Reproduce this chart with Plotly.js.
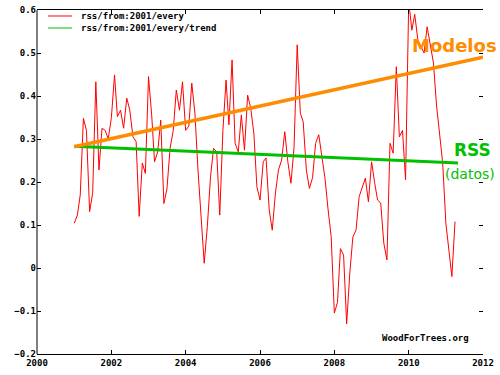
<!DOCTYPE html>
<html>
<head>
<meta charset="utf-8">
<script src="https://cdn.plot.ly/plotly-3.0.1.min.js"></script>
<style>html,body{margin:0;padding:0;background:#fff;}#chart{width:500px;height:375px;}</style>
</head>
<body>
<div id="chart"></div>
<script>
// Monthly RSS anomalies, Jan 2001 .. Apr 2011
var startYear = 2001;
var rssValues = [
  0.104, 0.123, 0.170, 0.348, 0.320, 0.131, 0.174, 0.433, 0.228, 0.325, 0.320, 0.300,
  0.350, 0.449, 0.352, 0.367, 0.325, 0.395, 0.367, 0.305, 0.294, 0.120, 0.244, 0.220,
  0.445, 0.356, 0.247, 0.270, 0.344, 0.150, 0.184, 0.279, 0.320, 0.414, 0.367, 0.433,
  0.320, 0.330, 0.430, 0.360, 0.228, 0.120, 0.011, 0.096, 0.212, 0.278, 0.270, 0.123,
  0.320, 0.437, 0.333, 0.484, 0.290, 0.270, 0.356, 0.274, 0.402, 0.372, 0.314, 0.189,
  0.158, 0.247, 0.256, 0.135, 0.088, 0.174, 0.228, 0.251, 0.317, 0.247, 0.197, 0.280,
  0.519, 0.360, 0.340, 0.228, 0.185, 0.210, 0.290, 0.310, 0.259, 0.209, 0.135, 0.073,
  -0.105, -0.080, 0.045, 0.030, -0.130, -0.012, 0.072, 0.088, 0.166, 0.189, 0.209, 0.154,
  0.247, 0.197, 0.158, 0.151, 0.058, 0.019, 0.290, 0.267, 0.468, 0.305, 0.320, 0.205,
  0.620, 0.553, 0.590, 0.530, 0.515, 0.500, 0.561, 0.523, 0.477, 0.379, 0.314, 0.244,
  0.104, 0.042, -0.020, 0.108
];
var trendX = ['2001-01-01', '2011-05-01'];
var trendValues = [0.283, 0.244];
var modelX = ['2001-01-01', '2012-01-01'];
var modelValues = [0.282, 0.490];
var xTickVals = ['2000-01-01','2002-01-01','2004-01-01','2006-01-01','2008-01-01','2010-01-01','2012-01-01'];
var xTickText = ['2000','2002','2004','2006','2008','2010','2012'];
var legendLabels = ['rss/from:2001/every', 'rss/from:2001/every/trend'];

var months = [];
for (var i = 0; i < rssValues.length; i++) {
  var y = startYear + Math.floor(i / 12);
  var m = (i % 12) + 1;
  months.push(y + '-' + (m < 10 ? '0' + m : m) + '-01');
}

var mono = {family: 'DejaVu Sans Mono', size: 9, color: '#000', weight: 'bold'};

var traces = [
  {x: months, y: rssValues, type: 'scatter', mode: 'lines', line: {color: '#ff0000', width: 1}, showlegend: false, hoverinfo: 'skip'},
  {x: trendX, y: trendValues, type: 'scatter', mode: 'lines', line: {color: '#00c000', width: 3}, showlegend: false, hoverinfo: 'skip'},
  {x: modelX, y: modelValues, type: 'scatter', mode: 'lines', line: {color: '#ff8c00', width: 3.5}, showlegend: false, hoverinfo: 'skip'}
];

var layout = {
  width: 500, height: 375,
  margin: {l: 37, r: 17, t: 10, b: 21, pad: 0},
  paper_bgcolor: '#fff', plot_bgcolor: '#fff',
  showlegend: false,
  xaxis: {
    type: 'date', range: ['2000-01-01', '2012-01-01'],
    tickvals: xTickVals, ticktext: xTickText,
    ticks: 'inside', ticklen: 4, tickcolor: '#000', tickwidth: 1,
    showline: true, linecolor: '#000', linewidth: 1, mirror: 'ticks',
    showgrid: false, zeroline: false, tickfont: mono
  },
  yaxis: {
    range: [-0.2, 0.6], dtick: 0.1, tick0: 0,
    ticks: 'inside', ticklen: 4, tickcolor: '#000', tickwidth: 1,
    showline: false, mirror: 'ticks',
    showgrid: false, zeroline: false, tickfont: mono
  },
  shapes: [
    {type: 'line', xref: 'paper', yref: 'paper', x0: 0, x1: 0, y0: 0, y1: 1, line: {color: '#000', width: 1}},
    {type: 'line', xref: 'paper', yref: 'paper', x0: 0.0247, x1: 0.0785, y0: 0.9826, y1: 0.9826, line: {color: '#ff0000', width: 1}},
    {type: 'line', xref: 'paper', yref: 'paper', x0: 0.0247, x1: 0.0785, y0: 0.9477, y1: 0.9477, line: {color: '#00c000', width: 1}}
  ],
  annotations: [
    {xref: 'paper', yref: 'paper', x: 0.0942, y: 0.9826, xanchor: 'left', yanchor: 'middle', text: legendLabels[0], showarrow: false, font: mono},
    {xref: 'paper', yref: 'paper', x: 0.0942, y: 0.9477, xanchor: 'left', yanchor: 'middle', text: legendLabels[1], showarrow: false, font: mono},
    {xref: 'paper', yref: 'paper', x: 0.8363, y: 0.898, xanchor: 'left', yanchor: 'middle', text: 'Modelos', showarrow: false,
     font: {family: 'DejaVu Sans', size: 18, color: '#ff8c00', weight: 'bold'}},
    {xref: 'paper', yref: 'paper', x: 0.9765, y: 0.593, xanchor: 'center', yanchor: 'middle', text: 'RSS', showarrow: false,
     font: {family: 'DejaVu Sans', size: 17, color: '#00c000', weight: 'bold'}},
    {xref: 'paper', yref: 'paper', x: 0.971, y: 0.523, xanchor: 'center', yanchor: 'middle', text: '(datos)', showarrow: false,
     font: {family: 'DejaVu Sans', size: 14, color: '#00c000'}},
    {xref: 'paper', yref: 'paper', x: 0.972, y: 0.047, xanchor: 'right', yanchor: 'middle', text: 'WoodForTrees.org', showarrow: false, font: mono}
  ]
};

Plotly.newPlot('chart', traces, layout, {displayModeBar: false, staticPlot: true});
</script>
</body>
</html>
